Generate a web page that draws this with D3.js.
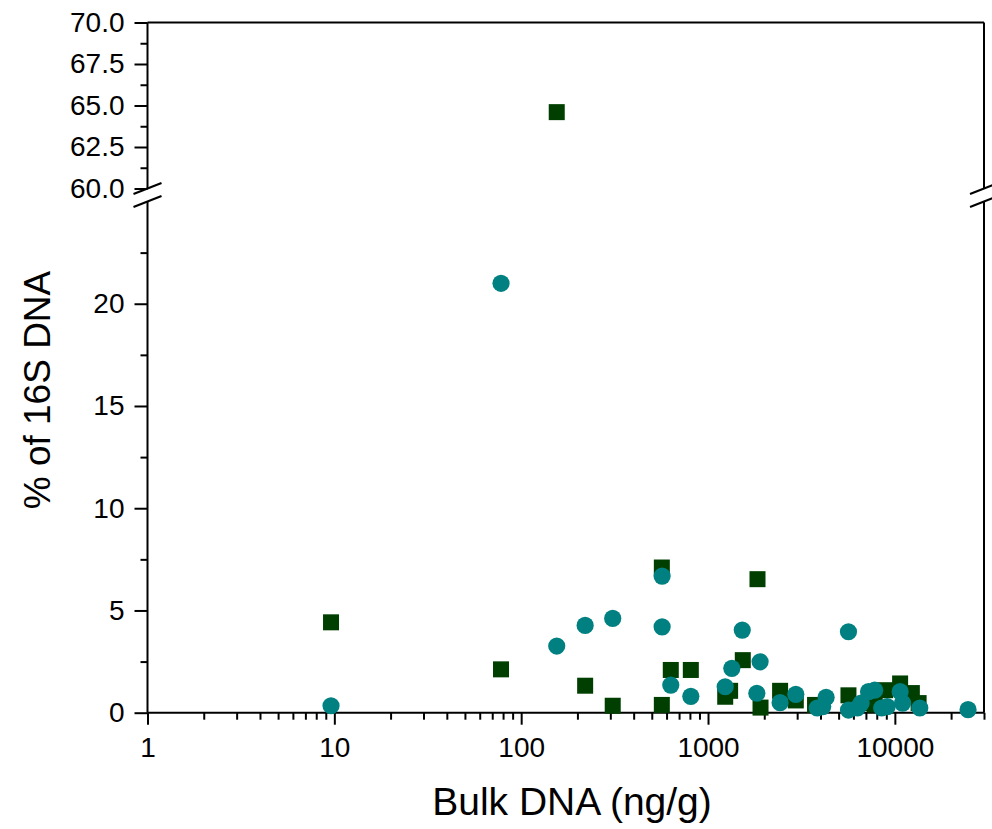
<!DOCTYPE html>
<html>
<head>
<meta charset="utf-8">
<script src="https://cdn.jsdelivr.net/npm/d3@7"></script>
<style>
  body { margin: 0; background: #fff; }
  svg text { font-family: "Liberation Sans", Arial, sans-serif; fill: #000; }
  .domain { display: none; }
  .tick line { stroke: #000; stroke-width: 2; }
</style>
</head>
<body>
<div id="chart"></div>
<script>
// squares (dark green) - bulk DNA vs % of 16S
var sqX = [9.6, 78, 155, 220, 309, 566, 566, 632, 809, 1236, 1313, 1535, 1840, 1910, 2431, 2950, 3740, 5645, 7200, 7800, 8870, 10670, 12330, 13400];
var sqY = [4.42, 2.12, 64.6, 1.32, 0.34, 7.1, 0.38, 2.09, 2.09, 0.78, 1.07, 2.57, 6.53, 0.25, 1.07, 0.6, 0.38, 0.85, 0.47, 0.4, 1.1, 1.43, 0.96, 0.47];
// circles (teal)
var ciX = [9.6, 78, 155, 220, 309, 568, 568, 632, 809, 1236, 1341, 1525, 1825, 1900, 2431, 2950, 3840, 4110, 4286, 5645, 5645, 6300, 6600, 7230, 7800, 8500, 9100, 10670, 11000, 13600, 24650];
var ciY = [0.34, 21.0, 3.26, 4.27, 4.61, 6.68, 4.2, 1.35, 0.8, 1.27, 2.17, 4.04, 0.95, 2.49, 0.49, 0.9, 0.23, 0.3, 0.75, 3.96, 0.13, 0.23, 0.47, 1.03, 1.1, 0.23, 0.3, 1.03, 0.47, 0.23, 0.15];

var xMajor = [1, 10, 100, 1000, 10000];
var lowMajor = [0, 5, 10, 15, 20];
var lowMinor = [2.5, 7.5, 12.5, 17.5, 22.5];
var upMajor = [60, 62.5, 65, 67.5, 70];
var upMinor = [61.25, 63.75, 66.25, 68.75];

function init(){
    var w = 992, h = 829;
    var pLeft = 147.5, pRight = 984, pTop = 22.5, pBottom = 712.7;
    var breakHi = 188.5, breakLo = 201.5;

    var svg = d3.select("#chart").append("svg").attr("width", w).attr("height", h);

    var x = d3.scaleLog().domain([1, 30000]).range([pLeft, pRight]);
    var yLow = d3.scaleLinear().domain([0, 25]).range([pBottom, breakLo]);
    var yUp = d3.scaleLinear().domain([60, 70]).range([breakHi, pTop]);

    // minor x ticks (2..9 per decade)
    var xMinor = [];
    xMajor.forEach(function(d){
        for (var k = 2; k <= 9; k++) { if (d*k <= 30000) xMinor.push(d*k); }
    });

    // x axis
    svg.append("g").attr("transform", "translate(0," + pBottom + ")")
       .call(d3.axisBottom(x).tickValues(xMinor).tickSize(7).tickFormat(""));
    var gx = svg.append("g").attr("transform", "translate(0," + pBottom + ")")
       .call(d3.axisBottom(x).tickValues(xMajor).tickSize(12).tickPadding(12).tickFormat(d3.format("d")));
    gx.selectAll("text").style("font-size", "28px");

    // y lower
    svg.append("g").attr("transform", "translate(" + pLeft + ",0)")
       .call(d3.axisLeft(yLow).tickValues(lowMinor).tickSize(7).tickFormat(""));
    var gyl = svg.append("g").attr("transform", "translate(" + pLeft + ",0)")
       .call(d3.axisLeft(yLow).tickValues(lowMajor).tickSize(13).tickPadding(10).tickFormat(d3.format("d")));
    gyl.selectAll("text").style("font-size", "28px");

    // y upper
    svg.append("g").attr("transform", "translate(" + pLeft + ",0)")
       .call(d3.axisLeft(yUp).tickValues(upMinor).tickSize(7).tickFormat(""));
    var gyu = svg.append("g").attr("transform", "translate(" + pLeft + ",0)")
       .call(d3.axisLeft(yUp).tickValues(upMajor).tickSize(13).tickPadding(10).tickFormat(d3.format(".1f")));
    gyu.selectAll("text").style("font-size", "28px");

    // frame
    var frame = svg.append("g").attr("stroke", "#000").attr("stroke-width", 2).attr("fill", "none");
    frame.append("line").attr("x1", pLeft).attr("x2", pRight).attr("y1", pTop).attr("y2", pTop);
    frame.append("line").attr("x1", pLeft).attr("x2", pRight).attr("y1", pBottom).attr("y2", pBottom);
    [pLeft, pRight].forEach(function(ax){
        frame.append("line").attr("x1", ax).attr("x2", ax).attr("y1", pTop).attr("y2", breakHi);
        frame.append("line").attr("x1", ax).attr("x2", ax).attr("y1", breakLo).attr("y2", pBottom);
        // break marks
        [breakHi, breakLo].forEach(function(by){
            frame.append("line")
                .attr("x1", ax - 14).attr("y1", by + 5.5)
                .attr("x2", ax + 14).attr("y2", by - 5.5)
                .attr("stroke-width", 2.2);
        });
    });

    var yPos = function(v){ return v >= 60 ? yUp(v) : yLow(v); };

    // squares
    var sqData = sqX.map(function(d, i){ return [d, sqY[i]]; });
    svg.append("g").selectAll("rect").data(sqData).enter().append("rect")
       .attr("x", function(d){ return x(d[0]) - 8; })
       .attr("y", function(d){ return yPos(d[1]) - 8; })
       .attr("width", 16).attr("height", 16)
       .attr("fill", "#003f00");

    // circles
    var ciData = ciX.map(function(d, i){ return [d, ciY[i]]; });
    svg.append("g").selectAll("circle").data(ciData).enter().append("circle")
       .attr("cx", function(d){ return x(d[0]); })
       .attr("cy", function(d){ return yPos(d[1]); })
       .attr("r", 8.6)
       .attr("fill", "#008080");

    // titles
    svg.append("text").attr("x", 572).attr("y", 815)
       .attr("text-anchor", "middle").style("font-size", "39px")
       .text("Bulk DNA (ng/g)");
    svg.append("text")
       .attr("transform", "translate(50,390) rotate(-90)")
       .attr("text-anchor", "middle").style("font-size", "37px")
       .text("% of 16S DNA");
}
window.onload = init;
</script>
</body>
</html>
